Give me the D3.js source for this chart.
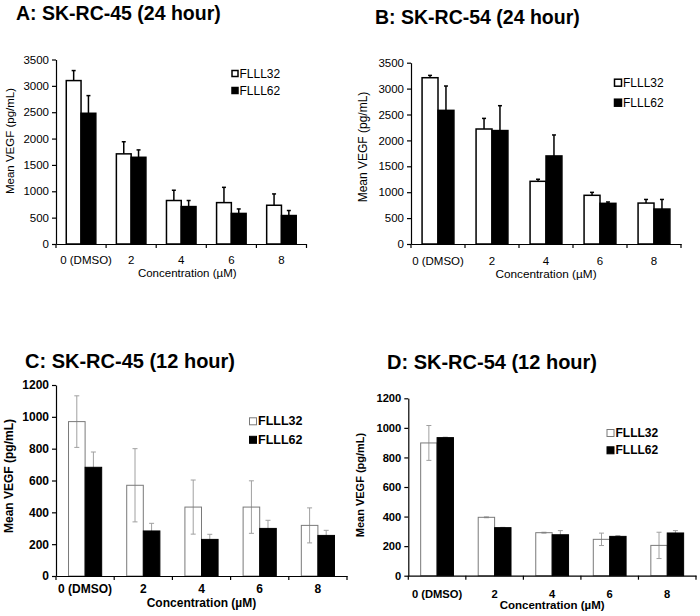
<!DOCTYPE html>
<html>
<head>
<meta charset="utf-8">
<script src="https://cdn.jsdelivr.net/npm/d3@7"></script>
<style>
  html, body { margin: 0; padding: 0; background: #fff; }
  svg { display: block; font-family: "Liberation Sans", Arial, sans-serif; }
</style>
</head>
<body>
<svg id="chart" width="700" height="616"></svg>
<script>
// ---------------- data ----------------
const categories = ["0 (DMSO)", "2", "4", "6", "8"];
const seriesNames = ["FLLL32", "FLLL62"];

const titleA = "A: SK-RC-45 (24 hour)";
const a_FLLL32 = [3100, 1710, 825, 785, 735];
const a_FLLL32_err = [190, 230, 195, 290, 215];
const a_FLLL62 = [2480, 1645, 710, 580, 540];
const a_FLLL62_err = [335, 140, 115, 85, 95];

const titleB = "B: SK-RC-54 (24 hour)";
const b_FLLL32 = [3210, 2220, 1210, 940, 790];
const b_FLLL32_err = [45, 205, 40, 57, 70];
const b_FLLL62 = [2580, 2190, 1700, 785, 675];
const b_FLLL62_err = [470, 480, 405, 26, 185];

const titleC = "C: SK-RC-45 (12 hour)";
const c_FLLL32 = [970, 570, 433, 433, 318];
const c_FLLL32_err = [162, 230, 170, 165, 110];
const c_FLLL62 = [683, 283, 230, 299, 255];
const c_FLLL62_err = [96, 48, 32, 51, 32];

const titleD = "D: SK-RC-54 (12 hour)";
const d_FLLL32 = [898, 395, 291, 246, 205];
const d_FLLL32_err = [118, 3, 3, 42, 89];
const d_FLLL62 = [934, 325, 277, 266, 289];
const d_FLLL62_err = [3, 2, 28, 5, 16];

const ticks24 = [0, 500, 1000, 1500, 2000, 2500, 3000, 3500];
const ticks12 = [0, 200, 400, 600, 800, 1000, 1200];

const yLabel = "Mean VEGF (pg/mL)";
const xLabel = "Concentration (\u00B5M)";

// ---------------- drawing ----------------
const svg = d3.select("#chart");

function drawPanel(p) {
  const g = svg.append("g");
  const x = d3.scaleBand().domain(categories).range([p.x0, p.x1]).padding(0);
  const y = d3.scaleLinear().domain([0, p.ymax]).range([p.yb, p.yt]);
  const bw = x.bandwidth() * p.barFrac;
  const weight = p.bold ? "bold" : "normal";

  // title
  g.append("text").attr("x", p.tx).attr("y", p.ty)
    .attr("font-size", p.titleSize).attr("font-weight", "bold")
    .attr("fill", "#000").text(p.title);

  const series = [
    { name: seriesNames[0], vals: p.s1, errs: p.e1, fill: p.whiteFill },
    { name: seriesNames[1], vals: p.s2, errs: p.e2, fill: "#000" }
  ];

  const errLayer = g.append("g");
  const barLayer = g.append("g");
  if (!p.errBehind) barLayer.lower();

  series.forEach((s, si) => {
    const off = si === 0 ? -bw : 0;
    const data = categories.map((c, i) => ({ c, v: s.vals[i], e: s.errs[i] }));
    barLayer.selectAll(null).data(data).enter().append("rect")
      .attr("x", d => x(d.c) + x.bandwidth() / 2 + off)
      .attr("y", d => y(d.v))
      .attr("width", bw)
      .attr("height", d => y(0) - y(d.v))
      .attr("fill", s.fill)
      .attr("stroke", si === 0 ? p.barStroke : "#000")
      .attr("stroke-width", p.barStrokeW);
    const cx = d => x(d.c) + x.bandwidth() / 2 + off + bw / 2;
    const lo = d => p.twoSided ? y(d.v - d.e) : y(d.v);
    errLayer.selectAll(null).data(data).enter().append("line")
      .attr("x1", cx).attr("x2", cx)
      .attr("y1", lo).attr("y2", d => y(d.v + d.e))
      .attr("stroke", p.errColor).attr("stroke-width", p.errW);
    errLayer.selectAll(null).data(data).enter().append("line")
      .attr("x1", d => cx(d) - p.cap).attr("x2", d => cx(d) + p.cap)
      .attr("y1", d => y(d.v + d.e)).attr("y2", d => y(d.v + d.e))
      .attr("stroke", p.errColor).attr("stroke-width", p.errW);
    if (p.twoSided) {
      errLayer.selectAll(null).data(data).enter().append("line")
        .attr("x1", d => cx(d) - p.cap).attr("x2", d => cx(d) + p.cap)
        .attr("y1", d => y(d.v - d.e)).attr("y2", d => y(d.v - d.e))
        .attr("stroke", p.errColor).attr("stroke-width", p.errW);
    }
  });

  // y axis
  const ya = g.append("g").attr("transform", `translate(${p.x0},0)`)
    .call(d3.axisLeft(y).tickValues(p.ticks).tickSize(4).tickSizeOuter(0).tickPadding(3).tickFormat(d3.format("d")));
  ya.select(".domain").attr("stroke", "#000").attr("stroke-width", 1.2);
  ya.selectAll(".tick line").attr("stroke", "#000").attr("stroke-width", 1.2);
  ya.selectAll(".tick text").attr("font-size", p.tickSize).attr("font-weight", weight)
    .attr("fill", "#000").attr("font-family", "Liberation Sans, Arial, sans-serif");

  // x axis (band boundary ticks)
  const xa = g.append("g").attr("transform", `translate(0,${p.yb})`)
    .call(d3.axisBottom(x).tickSize(0).tickPadding(p.xPad));
  xa.select(".domain").attr("stroke", "#000").attr("stroke-width", 1.2);
  xa.selectAll(".tick text").attr("font-size", p.tickSize).attr("font-weight", weight)
    .attr("fill", "#000").attr("font-family", "Liberation Sans, Arial, sans-serif")
    .attr("dx", (d, i) => i === 0 ? p.firstDx : 0);
  const bounds = categories.map(c => x(c)).concat([p.x1]);
  xa.selectAll(".bnd").data(bounds).enter().append("line")
    .attr("class", "bnd")
    .attr("x1", d => d).attr("x2", d => d).attr("y1", 0).attr("y2", 4)
    .attr("stroke", "#000").attr("stroke-width", 1.2);

  // axis titles
  g.append("text").attr("x", (p.x0 + p.x1) / 2 + p.xtDx).attr("y", p.xty)
    .attr("text-anchor", "middle").attr("font-size", p.axisSize).attr("font-weight", weight)
    .text(xLabel);
  g.append("text")
    .attr("transform", `translate(${p.ylx},${p.yly}) rotate(-90)`)
    .attr("text-anchor", "middle").attr("dominant-baseline", "central")
    .attr("font-size", p.ylSize).attr("font-weight", weight)
    .text(yLabel);

  // legend
  const lg = g.append("g");
  series.forEach((s, i) => {
    const cy = p.ly + i * p.lgap;
    lg.append("rect").attr("x", p.lx).attr("y", cy - p.ls / 2)
      .attr("width", p.ls).attr("height", p.ls)
      .attr("fill", i === 0 ? "#fff" : "#000").attr("stroke", i === 0 ? p.barStroke : "#000")
      .attr("stroke-width", p.legStrokeW);
    lg.append("text").attr("x", p.lx + p.ls + 1.5).attr("y", cy)
      .attr("dominant-baseline", "central")
      .attr("font-size", p.legSize).attr("font-weight", weight)
      .text(s.name);
  });
}

const common24 = { ymax: 3500, ticks: ticks24, bold: false, barStroke: "#000", barStrokeW: 1.5,
  errColor: "#000", errW: 1.5, cap: 2, twoSided: false, legStrokeW: 1.5, barFrac: 0.295,
  whiteFill: "#fff", errBehind: false };
const common12 = { ymax: 1200, ticks: ticks12, bold: true, barStroke: "#7a7a7a", barStrokeW: 1,
  errColor: "#a0a0a0", errW: 1, cap: 2.5, twoSided: true, legStrokeW: 1, barFrac: 0.285,
  whiteFill: "none", errBehind: true, firstDx: 0 };

drawPanel(Object.assign({}, common24, {
  title: titleA, tx: 16, ty: 20, titleSize: 19.5,
  x0: 56, x1: 306.5, yt: 59.5, yb: 244,
  s1: a_FLLL32, e1: a_FLLL32_err, s2: a_FLLL62, e2: a_FLLL62_err,
  tickSize: 11.5, xPad: 11.8, firstDx: 5, axisSize: 11.5, xty: 276.5, xtDx: 6,
  ylx: 10, yly: 141, ylSize: 11.5,
  lx: 232, ly: 73.5, lgap: 17, ls: 6, legSize: 12
}));

drawPanel(Object.assign({}, common24, {
  title: titleB, tx: 375, ty: 23.5, titleSize: 19.5,
  x0: 411, x1: 681, yt: 62.7, yb: 244,
  s1: b_FLLL32, e1: b_FLLL32_err, s2: b_FLLL62, e2: b_FLLL62_err,
  tickSize: 11.5, xPad: 12.8, firstDx: 0, axisSize: 11.8, xty: 278, xtDx: 0,
  ylx: 363, yly: 147, ylSize: 12,
  lx: 614.5, ly: 82.7, lgap: 20, ls: 7, legSize: 12
}));

drawPanel(Object.assign({}, common12, {
  title: titleC, tx: 25, ty: 368, titleSize: 20,
  x0: 56, x1: 347, yt: 385, yb: 576,
  s1: c_FLLL32, e1: c_FLLL32_err, s2: c_FLLL62, e2: c_FLLL62_err,
  tickSize: 12, xPad: 8.5, axisSize: 12, xty: 607, xtDx: 0,
  ylx: 8.5, yly: 476, ylSize: 12,
  lx: 249.5, ly: 421.3, lgap: 18.5, ls: 7, legSize: 12.5
}));

drawPanel(Object.assign({}, common12, {
  title: titleD, tx: 387, ty: 369, titleSize: 20,
  x0: 408.3, x1: 696, yt: 398.3, yb: 575.7,
  s1: d_FLLL32, e1: d_FLLL32_err, s2: d_FLLL62, e2: d_FLLL62_err,
  tickSize: 11.2, xPad: 14, axisSize: 11.5, xty: 608.5, xtDx: 0,
  ylx: 360, yly: 485, ylSize: 11,
  lx: 607, ly: 433, lgap: 17.3, ls: 7, legSize: 12
}));
</script>
</body>
</html>
